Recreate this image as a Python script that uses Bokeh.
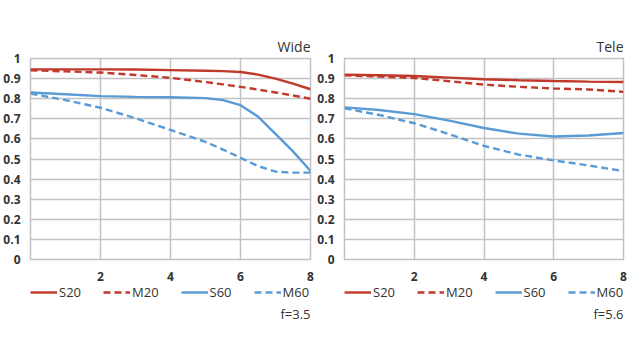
from bokeh.plotting import figure
from bokeh.layouts import row, column
from bokeh.models import Legend, LegendItem, Label, FixedTicker, Range1d
from bokeh.embed import file_html
from bokeh.resources import INLINE

# Image height (mm) and MTF values
x_wide = [0, 1, 2, 3, 4, 5, 5.5, 6, 6.5, 7, 7.5, 8]
wide_s20 = [0.946, 0.946, 0.946, 0.945, 0.942, 0.939, 0.937, 0.933, 0.920, 0.900, 0.875, 0.847]
wide_m20 = [0.941, 0.936, 0.930, 0.918, 0.904, 0.883, 0.871, 0.859, 0.845, 0.831, 0.816, 0.800]
wide_s60 = [0.831, 0.822, 0.813, 0.809, 0.807, 0.803, 0.793, 0.768, 0.711, 0.625, 0.538, 0.440]
wide_m60 = [0.826, 0.793, 0.755, 0.703, 0.645, 0.585, 0.547, 0.506, 0.465, 0.437, 0.432, 0.432]

x_tele = [0, 1, 2, 3, 4, 5, 6, 7, 8]
tele_s20 = [0.920, 0.917, 0.913, 0.905, 0.897, 0.892, 0.888, 0.885, 0.883]
tele_m20 = [0.916, 0.910, 0.903, 0.887, 0.870, 0.859, 0.851, 0.846, 0.834]
tele_s60 = [0.757, 0.744, 0.723, 0.691, 0.654, 0.626, 0.612, 0.617, 0.629]
tele_m60 = [0.752, 0.719, 0.678, 0.624, 0.565, 0.522, 0.493, 0.468, 0.440]

series_names = ["S20", "M20", "S60", "M60"]
x_ticks = [2, 4, 6, 8]
y_ticks = [0, 0.1, 0.2, 0.3, 0.4, 0.5, 0.6, 0.7, 0.8, 0.9, 1]
y_tick_labels = {0: "0", 0.1: "0.1", 0.2: "0.2", 0.3: "0.3", 0.4: "0.4", 0.5: "0.5",
                 0.6: "0.6", 0.7: "0.7", 0.8: "0.8", 0.9: "0.9", 1: "1"}

RED = "#c0392b"
BLUE = "#5b9bd5"
GRID = "#c2c2c2"
TXT = "#333333"
FONT = "Open Sans"
DASH = "7 4"
LW = 2.4


def add_lines(p, xs, s20, m20, s60, m60):
    styles = [(s20, RED, "solid"), (m20, RED, DASH), (s60, BLUE, "solid"), (m60, BLUE, DASH)]
    rs = []
    for ys, col, dash in styles:
        rs.append(p.line(xs, ys, line_color=col, line_width=LW, line_dash=dash))
    return rs


def make_panel(xs, s20, m20, s60, m60, title, fnote, width, br, leg_left, note_br):
    p = figure(width=width, height=283, output_backend="svg",
               toolbar_location=None, min_border_left=30, min_border_right=br,
               min_border_top=58, min_border_bottom=22, title=title,
               x_range=Range1d(0, 8), y_range=Range1d(0, 1))
    p.title.align = "right"
    p.title.text_font = FONT
    p.title.text_font_size = "14px"
    p.title.text_font_style = "normal"
    p.title.text_color = TXT
    p.title.standoff = 5

    add_lines(p, xs, s20, m20, s60, m60)

    p.xaxis.ticker = FixedTicker(ticks=x_ticks)
    p.yaxis.ticker = FixedTicker(ticks=y_ticks)
    p.yaxis.major_label_overrides = y_tick_labels
    for ax in (p.xaxis[0], p.yaxis[0]):
        ax.axis_line_color = None
        ax.major_tick_line_color = None
        ax.minor_tick_line_color = None
        ax.major_label_text_font = FONT
        ax.major_label_text_font_size = "12px"
        ax.major_label_text_font_style = "bold"
        ax.major_label_text_color = TXT
    p.xaxis.major_label_standoff = 6
    p.yaxis.major_label_standoff = 4
    p.xgrid.grid_line_color = GRID
    p.ygrid.grid_line_color = GRID
    p.xgrid.grid_line_width = 1.5
    p.ygrid.grid_line_width = 1.5
    p.outline_line_color = GRID
    p.outline_line_width = 1.5

    # legend strip below the chart
    q = figure(width=width, height=40, output_backend="svg", toolbar_location=None,
               min_border_left=leg_left, min_border_right=note_br,
               min_border_top=0, min_border_bottom=0,
               x_axis_location=None, y_axis_location=None,
               x_range=Range1d(0, 1), y_range=Range1d(0, 1))
    q.outline_line_color = None
    q.xgrid.grid_line_color = None
    q.ygrid.grid_line_color = None
    rs = add_lines(q, xs, s20, m20, s60, m60)
    for r in rs:
        r.visible = False
    items = [LegendItem(label=n, renderers=[r]) for n, r in zip(series_names, rs)]
    leg = Legend(items=items, orientation="horizontal", location=(0, 22),
                 glyph_width=27, glyph_height=14, label_standoff=2, spacing=22,
                 padding=0, margin=0, border_line_color=None,
                 background_fill_alpha=0, inactive_fill_alpha=0,
                 label_text_font=FONT, label_text_font_size="13px",
                 label_text_color=TXT, label_height=14)
    q.add_layout(leg)
    note = Label(x=1, y=10, y_units="screen", text=fnote, text_align="right",
                 text_baseline="middle", text_font=FONT, text_font_size="13px",
                 text_color=TXT)
    q.add_layout(note)
    return column(p, q)


c1 = make_panel(x_wide, wide_s20, wide_m20, wide_s60, wide_m60, "Wide", "f=3.5", 314, 4, 28, 4)
c2 = make_panel(x_tele, tele_s20, tele_m20, tele_s60, tele_m60, "Tele", "f=5.6", 316, 6, 28, 7)
layout = row(c1, c2)

open("out.html", "w").write(file_html(layout, INLINE))
